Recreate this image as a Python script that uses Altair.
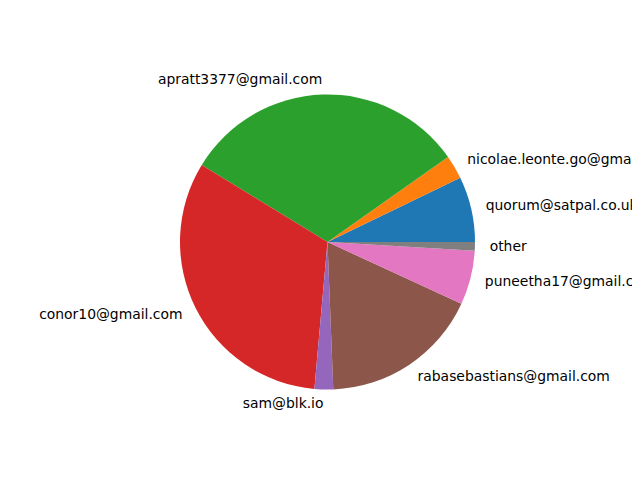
import altair as alt
import pandas as pd
import math

labels = [
    "quorum@satpal.co.uk",
    "nicolae.leonte.go@gmail.com",
    "apratt3377@gmail.com",
    "conor10@gmail.com",
    "sam@blk.io",
    "rabasebastians@gmail.com",
    "puneetha17@gmail.com",
    "other",
]
values = [25.85, 9.35, 113.3, 116.4, 7.35, 62.95, 21.4, 3.4]
colors = ["#1f77b4", "#ff7f0e", "#2ca02c", "#d62728",
          "#9467bd", "#8c564b", "#e377c2", "#7f7f7f"]

df = pd.DataFrame({"label": labels, "value": values, "idx": list(range(len(labels)))})

CX, CY, R = 319.5, 234, 147.5

base = alt.Chart(df).transform_joinaggregate(
    total="sum(value)"
).transform_window(
    cum="sum(value)", sort=[alt.SortField("idx")], frame=[None, 0]
).transform_calculate(
    start="datum.total - datum.cum",
    end="datum.total - datum.cum + datum.value",
    mid="datum.total - datum.cum + datum.value / 2",
    right="cos(2 * PI * (datum.cum - datum.value / 2) / datum.total) > 0",
)

theta_scale = alt.Scale(domain=[0, 360], range=[math.pi / 2, 5 * math.pi / 2])

arcs = base.mark_arc(radius=R, stroke=None).encode(
    theta=alt.Theta("start:Q", scale=theta_scale, stack=None),
    theta2="end:Q",
    color=alt.Color("label:N", scale=alt.Scale(domain=labels, range=colors), legend=None),
    x=alt.value(CX),
    y=alt.value(CY),
)

text_common = dict(radius=R * 1.1, baseline="middle", font="DejaVu Sans",
                   fontSize=13.9, color="black")

text_right = base.transform_filter("datum.right").mark_text(align="left", **text_common).encode(
    theta=alt.Theta("mid:Q", scale=theta_scale, stack=None),
    text="label:N",
    x=alt.value(CX),
    y=alt.value(CY),
)
text_left = base.transform_filter("!datum.right").mark_text(align="right", **text_common).encode(
    theta=alt.Theta("mid:Q", scale=theta_scale, stack=None),
    text="label:N",
    x=alt.value(CX),
    y=alt.value(CY),
)

chart = alt.layer(arcs, text_right, text_left).properties(
    width=624, height=464,
    autosize=alt.AutoSizeParams(type="none"),
    padding=0,
).configure_view(stroke=None)

chart.save("out.html", embed_options={"renderer": "svg", "actions": False})
